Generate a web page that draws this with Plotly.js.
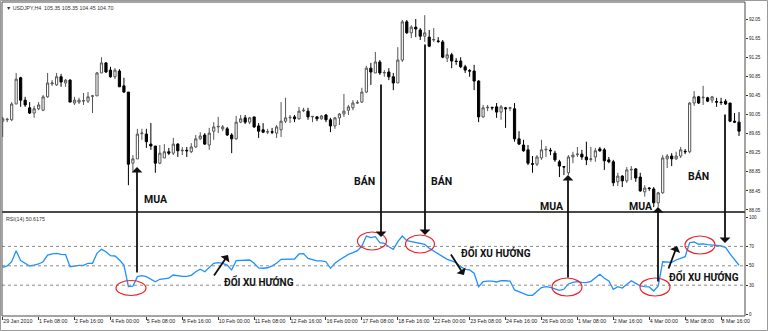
<!DOCTYPE html>
<html><head><meta charset="utf-8">
<script src="https://cdn.plot.ly/plotly-3.0.1.min.js"></script>
<style>html,body{margin:0;padding:0;background:#fff;}#chart{width:768px;height:331px;}</style>
</head><body><div id="chart"></div>
<script>
// USDJPY H4 candles (bar index 0 = 29 Jan 2010 00:00)
const openP = [89.91,89.94,89.94,90.27,90.82,90.35,90.19,90.08,90.17,90.14,
90.42,90.69,90.67,90.84,90.71,90.77,90.29,90.31,90.33,90.33,
90.43,90.44,90.92,91.13,90.98,90.84,90.96,90.65,90.52,89.03,
89.12,89.65,89.64,89.43,89.39,89.03,89.14,89.27,89.24,89.43,
89.29,89.30,89.27,89.37,89.54,89.62,89.41,89.70,89.79,89.75,
89.75,89.62,89.54,89.89,89.98,89.89,90.00,89.81,89.73,89.68,
89.69,89.66,89.73,89.91,89.98,90.00,89.96,90.13,90.12,90.00,
90.00,89.96,90.04,89.94,89.81,89.98,90.06,90.14,90.19,90.29,
90.31,90.52,91.02,90.92,91.15,90.92,90.94,90.84,90.71,91.19,
91.99,91.76,91.88,91.82,91.69,91.67,91.61,91.59,91.57,91.23,
91.30,91.17,91.17,91.05,90.97,90.96,90.75,90.00,90.19,90.20,
90.21,90.10,90.19,90.18,90.17,89.54,89.41,89.31,89.02,89.01,
89.14,89.31,89.30,89.24,89.06,88.96,88.83,89.16,89.21,89.22,
89.16,89.11,89.16,89.33,89.31,89.10,89.06,88.64,88.76,88.66,
88.89,88.91,88.74,88.43,88.51,88.49,88.20,88.41,89.12,89.18,
89.12,89.18,89.28,89.27,90.29,90.42,90.40,90.40,90.35,90.32,
90.31,90.33,90.29,89.91,89.89];
const highP = [90.00,89.98,90.31,90.92,90.84,90.42,90.31,90.23,90.31,90.46,
90.92,90.77,90.92,90.90,90.79,90.79,90.42,90.40,90.50,90.52,
90.46,90.94,91.25,91.15,91.05,91.02,91.00,90.82,90.52,89.20,
89.75,89.75,89.75,89.87,89.39,89.41,89.43,89.35,89.56,89.45,
89.37,89.37,89.45,89.62,89.68,89.66,89.77,89.89,90.00,89.83,
89.79,89.66,90.02,90.04,90.04,90.00,90.00,89.87,89.87,89.75,
89.77,89.83,90.31,90.40,90.04,90.04,90.21,90.19,90.19,90.02,
90.02,90.04,90.06,89.98,90.00,90.08,90.48,90.25,90.35,90.35,
90.61,91.07,91.13,91.36,91.19,90.98,91.02,90.92,91.46,92.03,
92.03,91.92,92.05,91.86,92.13,91.82,91.86,91.67,91.61,91.44,
91.34,91.23,91.25,91.09,91.00,91.09,90.77,90.25,90.25,90.21,
90.29,90.25,90.21,90.21,90.29,89.70,89.52,89.41,89.18,89.20,
89.52,89.39,89.35,89.29,89.10,88.97,89.20,89.27,89.37,89.31,
89.48,89.37,89.35,89.37,89.35,89.16,89.10,88.83,88.78,88.95,
88.97,88.93,88.83,88.57,88.53,88.53,88.43,89.20,89.22,89.24,
89.27,89.37,89.33,90.31,90.54,90.44,90.65,90.42,90.44,90.40,
90.40,90.37,90.29,90.08,90.10];
const lowP = [89.58,89.89,89.91,90.27,90.21,90.21,90.06,89.98,90.14,90.12,
90.40,90.65,90.65,90.63,90.63,90.31,90.25,90.27,90.25,90.29,
90.08,90.44,90.92,90.92,90.82,90.79,90.63,90.50,88.57,88.85,
89.12,89.52,89.35,89.31,88.83,89.01,89.14,89.20,89.20,89.16,
89.20,89.16,89.24,89.35,89.52,89.41,89.31,89.52,89.66,89.70,
89.60,89.24,89.52,89.87,89.85,89.85,89.77,89.56,89.66,89.64,
89.64,89.56,89.58,89.87,89.87,89.89,89.94,90.10,89.94,89.89,
89.91,89.94,89.89,89.68,89.75,89.83,90.00,90.04,90.14,90.27,
90.29,90.50,90.67,90.92,90.88,90.84,90.77,90.56,90.71,91.15,
91.74,91.65,91.67,91.61,91.57,91.46,91.57,91.55,91.23,91.15,
91.02,91.09,91.02,90.92,90.84,90.56,89.89,89.98,90.12,90.14,
89.98,89.94,89.77,90.12,89.48,89.41,89.27,88.99,88.83,88.97,
89.10,89.16,89.20,89.06,88.74,88.78,88.78,89.03,89.16,89.10,
88.99,89.06,89.06,89.27,88.89,89.03,88.55,88.55,88.53,88.62,
88.68,88.64,88.43,88.33,88.45,88.11,88.11,88.39,88.93,88.97,
89.10,89.14,89.22,89.24,90.23,90.27,90.25,90.31,90.29,90.21,
90.25,90.25,89.89,89.87,89.60];
const closeP = [89.96,89.95,90.27,90.79,90.35,90.25,90.08,90.17,90.25,90.42,
90.71,90.71,90.84,90.73,90.77,90.31,90.35,90.35,90.34,90.42,
90.44,90.92,91.13,90.94,90.84,90.98,90.63,90.52,89.01,89.12,
89.64,89.66,89.48,89.39,89.03,89.24,89.27,89.24,89.43,89.29,
89.30,89.29,89.37,89.54,89.60,89.43,89.66,89.79,89.80,89.79,
89.62,89.54,89.89,89.96,89.89,89.98,89.79,89.70,89.68,89.69,
89.68,89.79,89.91,89.98,89.99,89.96,90.12,90.14,90.00,90.01,
89.96,90.02,89.94,89.81,89.98,90.06,90.12,90.21,90.29,90.30,
90.52,91.02,90.94,91.15,90.92,90.93,90.84,90.71,91.19,91.99,
91.76,91.88,91.84,91.69,91.76,91.48,91.62,91.58,91.25,91.30,
91.17,91.16,91.05,90.98,90.96,90.75,90.00,90.19,90.20,90.19,
90.10,90.21,90.17,90.19,89.54,89.43,89.29,89.03,89.01,89.16,
89.31,89.32,89.29,89.10,88.97,88.95,89.16,89.20,89.22,89.16,
89.10,89.12,89.29,89.29,89.08,89.06,88.62,88.76,88.66,88.89,
88.90,88.72,88.45,88.51,88.50,88.20,88.41,89.14,89.18,89.12,
89.18,89.31,89.27,90.29,90.42,90.29,90.41,90.33,90.42,90.31,
90.30,90.27,89.91,89.89,89.70];
const rsi14 = [48.4,49.8,54.2,65.6,55.3,52.6,49.8,50.8,51.9,54.2,
61.1,62.2,62.9,61.8,61.5,49.1,50.1,50.5,50.5,52.6,
52.6,62.9,67.0,64.5,60.4,60.1,56.0,50.8,28.5,29.0,
38.8,39.8,38.8,36.4,33.6,36.1,37.1,37.4,40.5,39.5,
39.1,39.1,40.2,43.9,46.4,43.9,48.4,52.6,53.2,52.6,
50.8,45.7,55.3,55.3,56.0,56.0,52.6,47.8,47.5,48.0,
50.0,52.6,56.7,57.0,57.0,57.0,62.2,62.5,57.7,56.0,
55.0,55.0,54.2,47.4,52.6,56.0,58.7,61.8,63.6,65.6,
70.4,80.7,79.0,80.0,73.8,73.2,69.7,67.0,74.9,80.7,
75.9,74.9,74.2,73.2,72.2,68.0,65.0,62.9,59.4,56.7,
55.0,53.2,49.1,46.4,45.7,42.3,28.5,33.6,34.3,34.3,
33.3,34.6,34.6,34.3,25.1,23.3,21.6,19.6,19.6,23.3,
27.5,28.5,27.8,26.1,24.7,25.8,31.3,33.0,33.6,33.0,
32.6,34.0,37.8,41.2,37.1,34.3,25.8,28.5,27.1,31.3,
34.6,31.9,29.2,28.5,28.2,24.0,29.2,54.2,54.2,53.5,
56.0,57.4,59.4,73.8,74.5,72.2,72.5,71.8,71.8,71.1,
70.4,69.0,62.2,56.7,50.6];
const tickIdx = [0,8,16,24,32,40,48,56,64,72,80,88,96,104,112,120,128,136,144,152,160];
const tickLabels = ["29 Jan 2010","1 Feb 08:00","2 Feb 16:00","4 Feb 00:00","5 Feb 08:00","8 Feb 16:00","10 Feb 00:00","11 Feb 08:00","12 Feb 16:00","16 Feb 00:00","17 Feb 08:00","18 Feb 16:00","22 Feb 00:00","23 Feb 08:00","24 Feb 16:00","26 Feb 00:00","1 Mar 08:00","2 Mar 16:00","4 Mar 00:00","5 Mar 08:00","8 Mar 16:00"];
const priceTicks = [88.05,88.45,88.85,89.25,89.65,90.05,90.45,90.85,91.25,91.65,92.05];
const rsiTicks = [0,30,50,70,100];
const rsiLevels = [30,50,70];
const headerText = "USDJPY,H4  105.35 105.35 104.45 104.70";
const rsiText = "RSI(14) 50.6175";

const idx = openP.map((_, i) => i);

// pixel -> paper helpers (positions only)
const L = 2, T = 2, W = 743, H = 314;
const px = x => (x - L) / W;
const py = y => (T + H - y) / H;
const FONT = "Liberation Sans, Arial, sans-serif";
const BOLDFONT = "Roboto, Liberation Sans, Arial, sans-serif";

const traces = [
  {type:'candlestick', x: idx, open: openP, high: highP, low: lowP, close: closeP,
   xaxis:'x', yaxis:'y', whiskerwidth:0, hoverinfo:'skip', showlegend:false,
   increasing:{line:{color:'#555555', width:1}, fillcolor:'#ffffff'},
   decreasing:{line:{color:'#000000', width:1}, fillcolor:'#000000'}},
  {type:'scatter', mode:'lines', x: idx, y: rsi14, xaxis:'x', yaxis:'y2',
   line:{color:'#1e90ff', width:1.3}, hoverinfo:'skip', showlegend:false}
];

const texts = [
  ['MUA',156,199,10.5], ['BÁN',364,181,10.5], ['BÁN',441,181,10.5],
  ['MUA',552,206,10.5], ['MUA',641,206,10.5], ['BÁN',698,176,10.5],
  ['ĐỔI XU HƯỚNG',259,281,10], ['ĐỔI XU HƯỚNG',496,253,10], ['ĐỔI XU HƯỚNG',704,276,10]
];
const arrows = [
  [137,167,137,274],[381,237,381,83],[425,235,425,43],
  [568,175,568,279],[658,207,658,283],[725,243,725,113],
  [228,255,213,277],[464,275,450,253],[677,246,668,270]
];
const ellipses = [
  [131,288,15,7.5],[372,241,14.5,9],[420,244,14.5,9],
  [567,287,15,9],[655,287,15,9],[700,245,15,9]
];

const annotations = [];
texts.forEach(t => annotations.push({xref:'paper', yref:'paper', x:px(t[1]), y:py(t[2]),
  text:'<b>'+t[0]+'</b>', showarrow:false, xanchor:'center', yanchor:'middle',
  font:{family:BOLDFONT, size:t[3], color:'#111'}}));
arrows.forEach(a => annotations.push({xref:'paper', yref:'paper', x:px(a[0]), y:py(a[1]),
  ax:a[2]-a[0], ay:a[3]-a[1], axref:'pixel', ayref:'pixel', text:'', showarrow:true,
  arrowhead:1, arrowsize:1, arrowwidth:1.8, arrowcolor:'#111', standoff:0, startstandoff:0}));
annotations.push({xref:'paper', yref:'paper', x:px(4), y:py(8), xanchor:'left', yanchor:'middle',
  text:'▼ '+headerText, showarrow:false, font:{family:FONT, size:5.3, color:'#333'}});
annotations.push({xref:'paper', yref:'paper', x:px(4), y:py(219), xanchor:'left', yanchor:'middle',
  text:rsiText, showarrow:false, font:{family:FONT, size:5.3, color:'#333'}});

const shapes = [];
rsiLevels.forEach(v => shapes.push({type:'line', xref:'paper', yref:'y2', x0:0, x1:1, y0:v, y1:v,
  line:{color:'#8a8a8a', width:1, dash:'dot'}}));
ellipses.forEach(e => shapes.push({type:'circle', xref:'paper', yref:'paper',
  x0:px(e[0]-e[2]), x1:px(e[0]+e[2]), y0:py(e[1]+e[3]), y1:py(e[1]-e[3]),
  line:{color:'#e8262b', width:1.2}}));
shapes.push({type:'line', xref:'paper', yref:'paper', x0:0, x1:1, y0:py(212), y1:py(212),
  line:{color:'#4a4a4a', width:2}});
shapes.push({type:'rect', xref:'paper', yref:'paper', x0:0, x1:1, y0:0, y1:1,
  line:{color:'#4a4a4a', width:1}});
shapes.push({type:'rect', xref:'paper', yref:'paper', x0:px(0.5), x1:px(767.5), y0:py(330.5), y1:py(0.5),
  line:{color:'#9a9a9a', width:1}});

const layout = {
  width:768, height:331, margin:{l:L, r:23, t:T, b:15, pad:0},
  paper_bgcolor:'#ffffff', plot_bgcolor:'#ffffff', showlegend:false,
  font:{family:FONT, color:'#222'},
  xaxis:{domain:[0,1], range:[-0.156,165.33], anchor:'y2', tickmode:'array', tickvals:tickIdx, ticktext:tickLabels,
    ticks:'outside', ticklen:3, tickwidth:1, tickcolor:'#333', ticklabelposition:'outside right', tickangle:0,
    tickfont:{family:FONT, size:5.3, color:'#222'}, showgrid:false, zeroline:false, showline:false,
    rangeslider:{visible:false}, fixedrange:true},
  yaxis:{domain:[(316-212)/H,1], range:[88.008,92.406], side:'right', anchor:'x', tickmode:'array',
    tickvals:priceTicks, ticktext:priceTicks.map(v=>v.toFixed(2)), ticks:'outside', ticklen:2, tickcolor:'#333',
    tickfont:{family:FONT, size:4.6, color:'#222'}, showgrid:false, zeroline:false, showline:false, fixedrange:true},
  yaxis2:{domain:[0,(316-214)/H], range:[-1.75,103.4], side:'right', anchor:'x', tickmode:'array',
    tickvals:rsiTicks, ticks:'outside', ticklen:2, tickcolor:'#333',
    tickfont:{family:FONT, size:4.6, color:'#222'}, showgrid:false, zeroline:false, showline:false, fixedrange:true},
  annotations: annotations, shapes: shapes
};
Plotly.newPlot('chart', traces, layout, {staticPlot:true, displayModeBar:false});
</script></body></html>
